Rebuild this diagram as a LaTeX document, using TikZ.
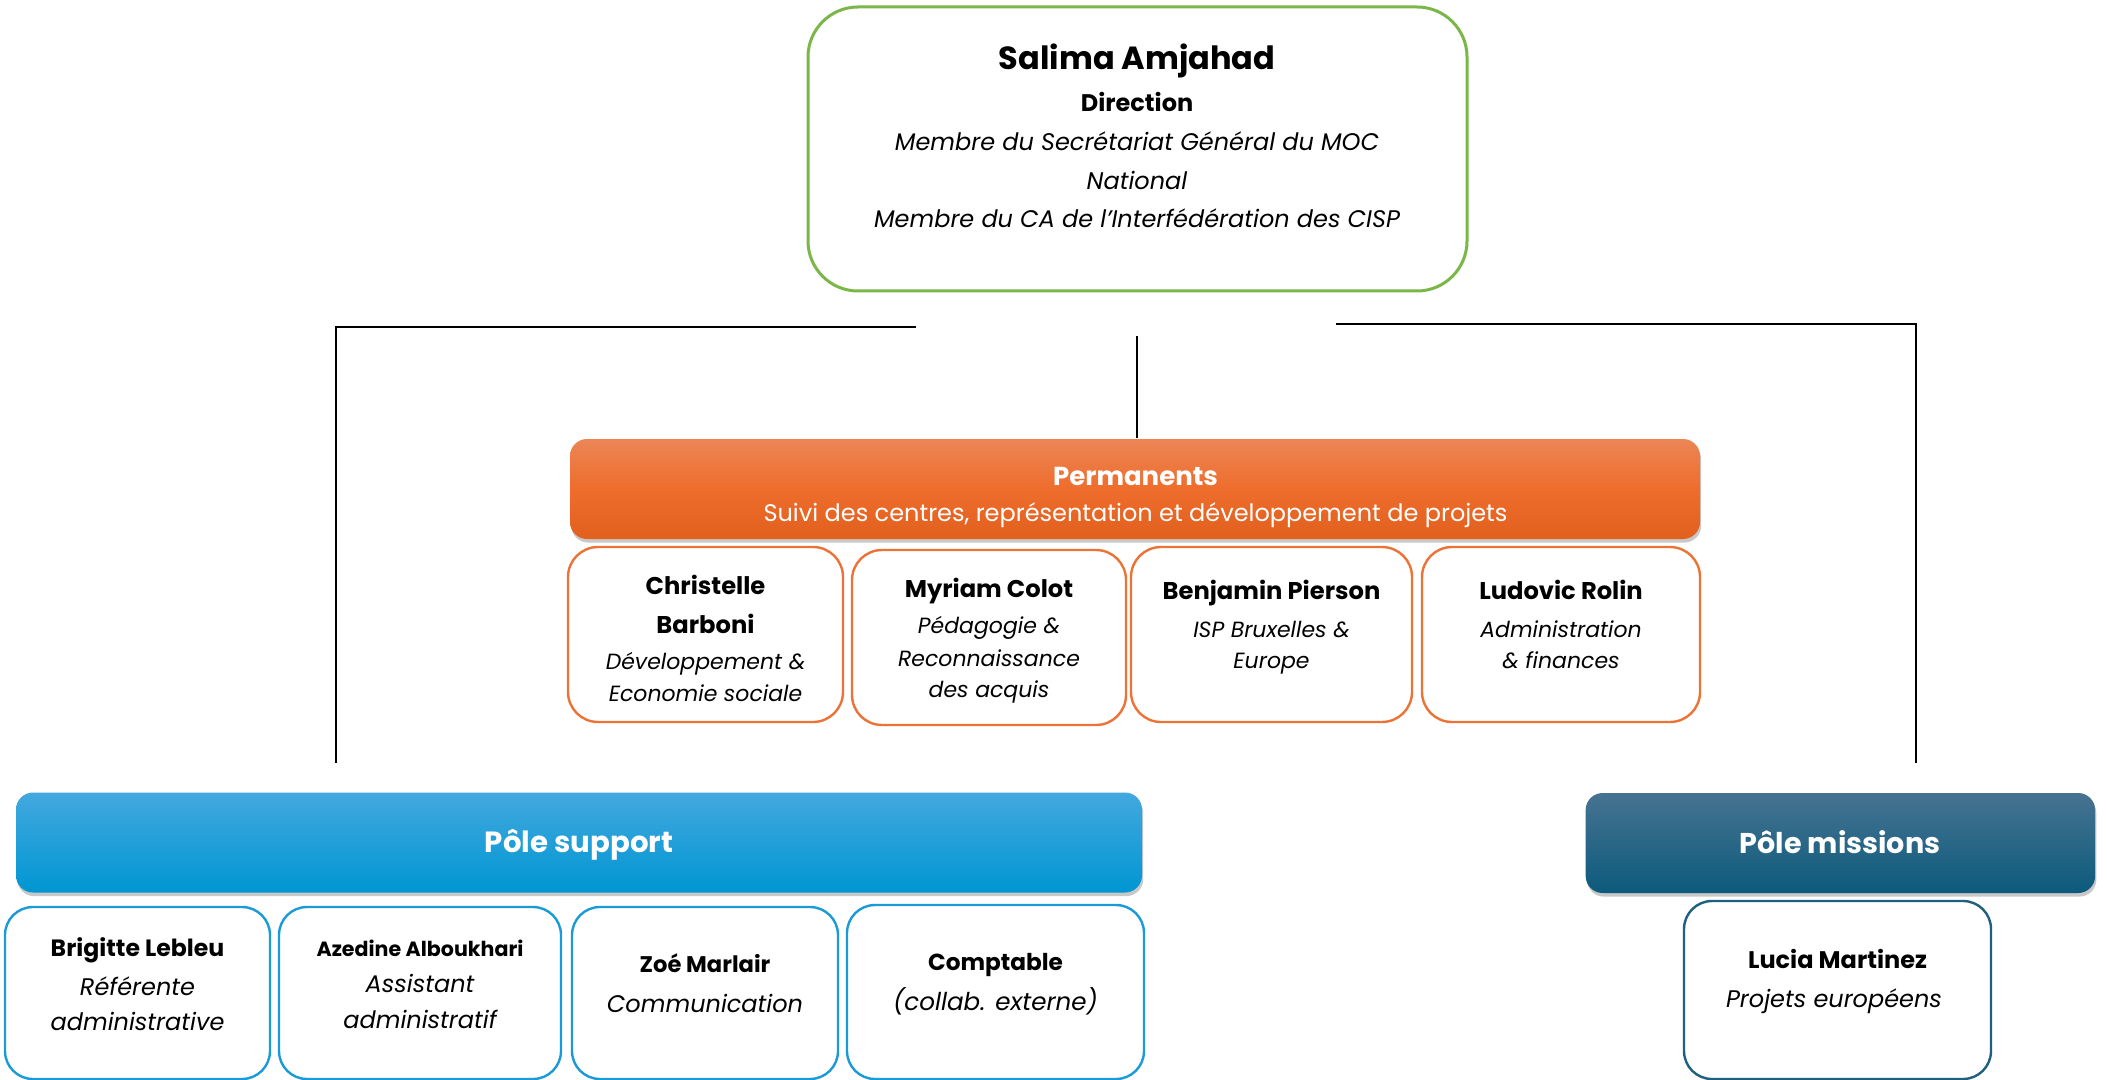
\documentclass[tikz,border=0pt]{standalone}
\usepackage{fontspec}
\setmainfont{Poppins}
\usetikzlibrary{shadows}
\definecolor{greenB}{HTML}{7AB648}
\definecolor{orangeB}{HTML}{ED7236}
\definecolor{orangeT}{HTML}{EC8556}
\definecolor{orangeM}{HTML}{EE6D2C}
\definecolor{orangeD}{HTML}{E2601E}
\definecolor{blueB}{HTML}{1A9AD6}
\definecolor{blueT}{HTML}{43A8DE}
\definecolor{blueD}{HTML}{0096D3}
\definecolor{navyB}{HTML}{1F5F7F}
\definecolor{navyT}{HTML}{477391}
\definecolor{navyD}{HTML}{0C5A7C}
\tikzset{
  topbox/.style={draw=greenB, line width=1.5pt, rounded corners=25pt, fill=white, inner sep=0},
  obox/.style={draw=orangeB, line width=1.2pt, rounded corners=15pt, fill=white, inner sep=0},
  bbox/.style={draw=blueB, line width=1.2pt, rounded corners=14pt, fill=white, inner sep=0},
  nbox/.style={draw=navyB, line width=1.2pt, rounded corners=14pt, fill=white, inner sep=0},
  bar/.style={rounded corners=8.5pt, inner sep=0,
    drop shadow={shadow xshift=0.6pt, shadow yshift=-1.8pt, opacity=0.3, fill=black!70}},
  nm/.style={anchor=base, inner sep=0, font=\bfseries\fontsize{12.1}{15}\selectfont},
  rl/.style={anchor=base, inner sep=0, font=\itshape\fontsize{11}{13}\selectfont},
  wt/.style={anchor=base, inner sep=0, text=white},
  conn/.style={draw=black, line width=0.7pt},
}
\begin{document}
\begin{tikzpicture}[x=0.5pt,y=-0.5pt]
\clip (0,0) rectangle (2107,1080);
\fill[white] (0,0) rectangle (2107,1080);

% ---------- Direction ----------
\node[topbox, minimum width=329.5pt, minimum height=142pt] (dir) at (1137.5,149) {};
\node[nm, font=\bfseries\fontsize{16}{18}\selectfont] (dirn) at (1137,70) {Salima Amjahad};
\node[nm, font=\bfseries\fontsize{12}{14}\selectfont] (dirr) at (1137,112) {Direction};
\node[rl, font=\itshape\fontsize{12}{14}\selectfont] (dir1) at (1137,151) {Membre du Secrétariat Général du MOC};
\node[rl, font=\itshape\fontsize{12}{14}\selectfont] (dir2) at (1137,190) {National};
\node[rl, font=\itshape\fontsize{12}{14}\selectfont] (dir3) at (1137,228) {Membre du CA de l’Interfédération des CISP};

% ---------- connectors ----------
\coordinate (lA) at (916,327);
\coordinate (lB) at (336,327);
\coordinate (lC) at (336,763);
\coordinate (rA) at (1336,324);
\coordinate (rB) at (1916,324);
\coordinate (rC) at (1916,763);
\coordinate (cA) at (1137,336);
\coordinate (cB) at (1137,438);
\draw[conn] (lA) -- (lB) -- (lC);
\draw[conn] (rA) -- (rB) -- (rC);
\draw[conn] (cA) -- (cB);

% ---------- Permanents ----------
\node[bar, top color=orangeT, bottom color=orangeD, middle color=orangeM,
      minimum width=565pt, minimum height=50pt] (perm) at (1135,489) {};
\node[wt, font=\bfseries\fontsize{13}{15}\selectfont] (permt) at (1135.5,485) {Permanents};
\node[wt, font=\fontsize{12}{14}\selectfont] (perms) at (1135.5,521) {Suivi des centres, représentation et développement de projets};

\node[obox, minimum width=137.5pt, minimum height=87.5pt] (o1) at (705.5,634.5) {};
\node[nm] (o1a) at (705.5,594) {Christelle};
\node[nm] (o1b) at (705.5,633) {Barboni};
\node[rl] (o1c) at (705.5,669) {Développement \&};
\node[rl] (o1d) at (705.5,701) {Economie sociale};

\node[obox, minimum width=137pt, minimum height=87.5pt] (o2) at (989,637.5) {};
\node[nm] (o2a) at (989,597) {Myriam Colot};
\node[rl] (o2b) at (989,633) {Pédagogie \&};
\node[rl] (o2c) at (989,666) {Reconnaissance};
\node[rl] (o2d) at (989,697) {des acquis};

\node[obox, minimum width=140.5pt, minimum height=87.5pt] (o3) at (1271.5,634.5) {};
\node[nm] (o3a) at (1271.5,599) {Benjamin Pierson};
\node[rl] (o3b) at (1271.5,637) {ISP Bruxelles \&};
\node[rl] (o3c) at (1271.5,668) {Europe};

\node[obox, minimum width=139pt, minimum height=87.5pt] (o4) at (1561,634.5) {};
\node[nm] (o4a) at (1561,599) {Ludovic Rolin};
\node[rl] (o4b) at (1561,637) {Administration};
\node[rl] (o4c) at (1561,668) {\& finances};

% ---------- Pôle support ----------
\node[bar, top color=blueT, bottom color=blueD, minimum width=563pt, minimum height=50pt] (sup) at (579,842.5) {};
\node[wt, font=\bfseries\fontsize{14.6}{17}\selectfont] (supt) at (579,852) {Pôle support};

\node[bbox, minimum width=132.5pt, minimum height=86pt] (b1) at (137.5,993) {};
\node[nm, font=\bfseries\fontsize{11.8}{14}\selectfont] (b1a) at (137.5,956) {Brigitte Lebleu};
\node[rl, font=\itshape\fontsize{12}{14}\selectfont] (b1b) at (137.5,995) {Référente};
\node[rl, font=\itshape\fontsize{12}{14}\selectfont] (b1c) at (137.5,1030) {administrative};

\node[bbox, minimum width=141pt, minimum height=86pt] (b2) at (420,993) {};
\node[nm, font=\bfseries\fontsize{10.3}{12}\selectfont] (b2a) at (420,956) {Azedine Alboukhari};
\node[rl, font=\itshape\fontsize{12}{14}\selectfont] (b2b) at (420,992) {Assistant};
\node[rl, font=\itshape\fontsize{12}{14}\selectfont] (b2c) at (420,1028) {administratif};

\node[bbox, minimum width=133pt, minimum height=86pt] (b3) at (705,993) {};
\node[nm, font=\bfseries\fontsize{11.3}{14}\selectfont] (b3a) at (705,972) {Zoé Marlair};
\node[rl, font=\itshape\fontsize{12}{14}\selectfont] (b3b) at (705,1012) {Communication};

\node[bbox, minimum width=148.5pt, minimum height=87pt] (b4) at (995.5,992) {};
\node[nm, font=\bfseries\fontsize{11.6}{14}\selectfont] (b4a) at (995.5,970) {Comptable};
\node[rl, font=\itshape\fontsize{12.3}{14}\selectfont] (b4b) at (995.5,1010) {(collab. externe)};

% ---------- Pôle missions ----------
\node[bar, top color=navyT, bottom color=navyD, minimum width=254.75pt, minimum height=50pt] (mis) at (1840.4,843) {};
\node[wt, font=\bfseries\fontsize{14.3}{17}\selectfont] (mist) at (1840,853) {Pôle missions};

\node[nbox, minimum width=153.5pt, minimum height=89pt] (m1) at (1837.5,990) {};
\node[nm, font=\bfseries\fontsize{12}{14}\selectfont] (m1a) at (1837.5,968) {Lucia Martinez};
\node[rl, font=\itshape\fontsize{12}{14}\selectfont] (m1b) at (1834,1007) {Projets européens};
\end{tikzpicture}
\end{document}
